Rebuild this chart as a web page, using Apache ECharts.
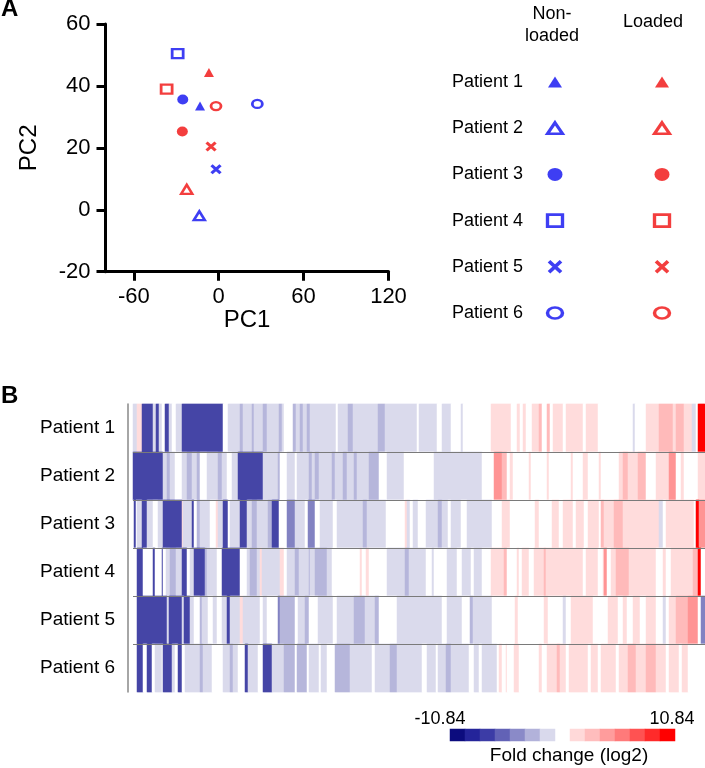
<!DOCTYPE html>
<html>
<head>
<meta charset="utf-8">
<script src="https://cdn.jsdelivr.net/npm/echarts@6/dist/echarts.min.js"></script>
<style>
html,body{margin:0;padding:0;background:#fff;}
#chart{width:705px;height:768px;}
</style>
</head>
<body>
<div id="chart"></div>
<script>
// ---------- Panel A data ----------
const patients = ['Patient 1', 'Patient 2', 'Patient 3', 'Patient 4', 'Patient 5', 'Patient 6'];
const conditions = ['Non-\nloaded', 'Loaded'];
const pc1NonLoaded = [-13.2, -13.7, -25.4, -29.0, -1.9, 27.3];
const pc2NonLoaded = [33.5, -1.9, 35.6, 50.4, 13.1, 34.2];
const pc1Loaded = [-6.9, -22.6, -25.7, -36.8, -5.4, -1.9];
const pc2Loaded = [44.3, 6.6, 25.3, 39.0, 20.4, 33.5];
const pc1Ticks = [-60, 0, 60, 120];

// ---------- Panel B data: log2 fold change per gene column, run-length [value, columns] ----------
const fcPatient1 = [[-2,4],[2,5],[-9,11],[-2,3],[-9,3],[-2,3],[0,3],[-9,4],[-2,3],[0,4],[-2,6],[-9,41],[0,5],[-2,12],[-4,3],[-2,9],[-4,2],[-2,9],[-4,4],[-2,12],[-4,3],[-2,2],[0,9],[-4,3],[-2,4],[-4,3],[-2,4],[-4,3],[-2,26],[0,2],[-2,10],[-4,5],[-2,25],[-4,7],[-2,32],[0,2],[-2,18],[0,5],[-2,9],[0,10],[-2,2],[0,28],[2,20],[0,6],[2,3],[0,3],[2,3],[0,6],[2,7],[4,3],[0,5],[4,3],[0,3],[2,10],[0,3],[2,17],[0,3],[2,12],[0,35],[-2,2],[0,11],[2,13],[4,14],[2,3],[4,8],[2,8],[-2,4],[0,2],[10,7]];
const fcPatient2 = [[-9,30],[-2,4],[-4,3],[-2,5],[0,7],[-2,5],[-4,5],[-2,5],[-4,3],[0,7],[-2,11],[-4,4],[-2,5],[0,5],[-2,6],[-9,25],[-2,15],[-4,2],[0,7],[-2,8],[0,2],[-2,12],[-4,3],[-2,3],[-4,4],[-2,13],[-4,3],[-2,8],[-4,4],[-2,7],[-4,3],[-2,12],[-4,10],[0,8],[-2,17],[0,30],[-2,48],[0,12],[6,8],[4,5],[0,3],[2,3],[0,16],[2,2],[0,16],[2,2],[0,22],[2,2],[0,10],[2,5],[0,11],[2,2],[0,18],[2,4],[4,5],[2,10],[4,8],[0,10],[2,13],[6,7],[0,5],[2,3],[0,14],[2,7]];
const fcPatient3 = [[0,1],[-9,2],[0,1],[-2,5],[-9,5],[-2,6],[0,5],[-2,5],[-9,19],[2,1],[-2,9],[-9,2],[0,3],[-4,3],[-2,10],[0,6],[2,2],[-2,5],[-9,5],[0,2],[-2,10],[-9,7],[-2,5],[-4,5],[-2,11],[-4,4],[-9,7],[0,8],[-6,8],[-2,10],[0,3],[-6,7],[0,5],[-2,13],[0,4],[-2,26],[-4,4],[-2,19],[0,19],[2,2],[-2,3],[0,3],[-2,5],[0,8],[-2,12],[-4,4],[-2,6],[0,3],[-2,10],[0,6],[-2,25],[0,10],[2,8],[0,25],[2,4],[0,13],[2,7],[0,4],[2,10],[0,3],[2,8],[0,4],[2,11],[0,2],[4,3],[2,10],[4,9],[2,36],[-2,4],[0,3],[2,28],[0,2],[10,3],[6,6]];
const fcPatient4 = [[0,4],[-9,6],[0,10],[-9,2],[0,7],[-9,1],[0,3],[-2,4],[-4,6],[-2,6],[-9,5],[0,3],[-2,4],[-9,11],[-4,2],[-2,10],[0,5],[-9,18],[0,7],[-2,3],[-4,7],[-2,3],[2,2],[-2,18],[2,4],[0,3],[-2,8],[-4,4],[-2,10],[-4,1],[-2,5],[-4,12],[-2,5],[0,28],[2,2],[0,4],[2,3],[0,18],[-2,18],[-4,4],[-2,17],[0,6],[-2,2],[0,13],[-2,10],[0,5],[-2,9],[0,3],[-2,8],[0,9],[2,13],[4,3],[0,10],[2,2],[0,3],[2,7],[0,5],[2,10],[4,2],[2,37],[0,3],[2,12],[0,5],[2,1],[6,3],[0,4],[2,5],[4,13],[2,27],[0,7],[2,3],[0,5],[2,22],[4,5],[10,3],[0,4]];
const fcPatient5 = [[0,4],[-9,30],[-2,2],[-9,13],[-2,2],[-9,6],[-2,4],[0,6],[-4,2],[-2,6],[0,5],[-2,4],[0,5],[-2,5],[-9,3],[-2,10],[2,3],[-2,17],[0,3],[-2,4],[0,11],[-6,2],[-4,15],[0,3],[-2,7],[-4,4],[0,9],[-2,15],[0,4],[-2,17],[-4,11],[-2,10],[-4,4],[0,18],[-2,45],[0,5],[-2,15],[0,8],[-4,3],[-2,19],[0,23],[2,3],[0,26],[2,4],[0,15],[-2,3],[0,5],[2,22],[0,15],[2,10],[0,5],[2,4],[0,6],[2,7],[0,6],[2,10],[0,7],[-2,3],[0,3],[2,7],[4,12],[6,10],[0,3],[-6,4]];
const fcPatient6 = [[0,4],[-9,6],[0,4],[-9,5],[0,3],[-2,7],[0,1],[-9,9],[-2,3],[0,3],[-9,4],[0,3],[-2,15],[-4,3],[-2,9],[0,11],[-2,7],[-4,3],[-2,5],[0,7],[-9,3],[-2,10],[0,5],[-9,9],[-2,12],[-4,11],[0,2],[-4,10],[0,2],[-2,10],[0,2],[-2,6],[0,8],[-4,15],[-2,22],[0,3],[-2,15],[-4,7],[-2,25],[0,5],[-2,9],[0,2],[-2,8],[-4,5],[-2,18],[0,5],[-2,5],[0,3],[-2,15],[0,2],[2,3],[0,4],[2,1],[0,7],[2,5],[0,20],[2,3],[0,5],[2,10],[4,3],[2,6],[0,3],[2,19],[0,3],[2,7],[0,3],[2,15],[0,3],[2,9],[4,8],[2,10],[4,10],[2,10],[0,3],[2,10],[0,3],[2,6],[0,17]];
const fcRows = [fcPatient1, fcPatient2, fcPatient3, fcPatient4, fcPatient5, fcPatient6];
const geneCount = 572;

// colour scale legend
const scaleLabels = ['-10.84', '10.84'];
const scaleName = 'Fold change (log2)';
const scaleLevels = [-7, -6, -5, -4, -3, -2, -1, 1, 2, 3, 4, 5, 6, 7];

// ---------- styles ----------
const FONT = 'Liberation Sans';
const BLUE = '#0e0ef0';
const RED = '#f00e0e';
const scaleColors = ['#0c0c7e', '#24249a', '#3c3ca6', '#6262b6', '#8a8ac8', '#b2b2da', '#d9d9ec',
                     '#ffd9d9', '#ffbdbd', '#ff9c9c', '#ff7a7a', '#ff5252', '#ff2a2a', '#ff0000'];
const markerShape = ['triangle', 'triangle', 'circle', 'rect', 'path://M0,0L10,10M10,0L0,10', 'circle'];
const markerOpen = [false, true, false, true, false, true];
const markerSizeA = [[10, 9], [11, 9], [11, 10], [11, 9], [9, 8], [10, 8]];
const markerSizeLegend = [[14, 11], [15, 11], [15, 13], [15, 12], [12, 11], [15, 11]];

function markerItem(value, i, color, legend) {
  const size = legend ? markerSizeLegend[i] : markerSizeA[i];
  const bw = legend ? 3 : 2.5;
  let itemStyle;
  if (markerOpen[i]) itemStyle = {color: '#ffffff', borderColor: color, borderWidth: bw};
  else if (markerShape[i].indexOf('path') === 0) itemStyle = {color: color, borderColor: color, borderWidth: bw + 0.5};
  else itemStyle = {color: color, borderWidth: 0};
  return {value: value, symbol: markerShape[i], symbolSize: size, itemStyle: itemStyle};
}

// build heatmap cells from the run-length rows
const geneCats = [];
for (let i = 0; i < geneCount; i++) geneCats.push('g' + i);
const heatData = [];
fcRows.forEach(function (runs, r) {
  let c = 0;
  runs.forEach(function (run) {
    for (let k = 0; k < run[1]; k++) { heatData.push([c, r, run[0]]); c++; }
  });
});

const scaleCats = [];
for (let i = 0; i < 15; i++) {
  const item = {value: 'c' + i};
  if (i === 0) item.textStyle = {padding: [0, 35, 0, 0]};
  if (i === 14) item.textStyle = {padding: [0, 0, 0, 9]};
  scaleCats.push(item);
}
const scaleData = scaleLevels.map(function (lv, k) {
  return {value: [k < 7 ? k : k + 1, 0, lv], itemStyle: {color: scaleColors[k]}};
});

const axisBlack = {onZero: false, lineStyle: {color: '#000', width: 3}};
const tickBlack = {length: 9, lineStyle: {color: '#000', width: 3}};
const txt = function (size) { return {fontFamily: FONT, fontSize: size, color: '#000'}; };

const chart = echarts.init(document.getElementById('chart'), null, {renderer: 'canvas'});
chart.setOption({
  animation: false,
  backgroundColor: '#ffffff',
  title: [
    {text: 'A', left: 1, top: -3, padding: 0, textStyle: {fontFamily: FONT, fontSize: 24, fontWeight: 'bold', color: '#000'}},
    {text: 'B', left: 1, top: 384, padding: 0, textStyle: {fontFamily: FONT, fontSize: 24, fontWeight: 'bold', color: '#000'}}
  ],
  grid: [
    {left: 105.5, top: 24, width: 283, height: 247.7, outerBoundsMode: 'none'},
    {left: 501.5, top: 58.9, width: 214, height: 277.2, outerBoundsMode: 'none'},
    {left: 133, top: 404, width: 572, height: 288, outerBoundsMode: 'none'},
    {left: 450, top: 729, width: 225, height: 12, outerBoundsMode: 'none'}
  ],
  visualMap: [{
    type: 'piecewise', show: false, seriesIndex: 4, dimension: 2,
    pieces: [
      {lt: -7.5, color: '#4646a6'},
      {gte: -7.5, lt: -5, color: '#8282c2'},
      {gte: -5, lt: -3, color: '#b6b6db'},
      {gte: -3, lt: -1, color: '#dadaec'},
      {gte: -1, lt: 1, color: '#ffffff'},
      {gte: 1, lt: 3, color: '#ffdcdc'},
      {gte: 3, lt: 5, color: '#ffbaba'},
      {gte: 5, lt: 8, color: '#ff9494'},
      {gte: 8, color: '#ff0000'}
    ]
  }],
  xAxis: [
    {gridIndex: 0, type: 'value', min: -80, max: 120,
     axisLine: axisBlack, axisTick: Object.assign({customValues: pc1Ticks}, tickBlack),
     axisLabel: Object.assign({customValues: pc1Ticks, margin: 14}, txt(22)),
     splitLine: {show: false},
     name: 'PC1', nameLocation: 'middle', nameGap: 33, nameTextStyle: txt(24)},
    {gridIndex: 1, type: 'category', position: 'top', data: [
        {value: conditions[0], textStyle: {padding: [0, 6, 0, 0]}},
        {value: conditions[1], textStyle: {padding: [0, 18, 14, 0]}}],
     axisLine: {show: false}, axisTick: {show: false},
     axisLabel: Object.assign({margin: 12, lineHeight: 22}, txt(18))},
    {gridIndex: 2, type: 'category', data: geneCats, show: false},
    {gridIndex: 3, type: 'category', position: 'top', data: scaleCats,
     axisLine: {show: false}, axisTick: {show: false},
     axisLabel: Object.assign({interval: 0, margin: 1,
       formatter: function (v, i) { return i === 0 ? scaleLabels[0] : (i === 14 ? scaleLabels[1] : ''); }}, txt(18))},
    {gridIndex: 3, type: 'category', position: 'bottom', data: scaleCats,
     axisLine: {show: false}, axisTick: {show: false}, axisLabel: {show: false},
     name: scaleName, nameLocation: 'middle', nameGap: 5,
     nameTextStyle: Object.assign({verticalAlign: 'top', padding: [0, 0, 0, 13]}, txt(19))}
  ],
  yAxis: [
    {gridIndex: 0, type: 'value', min: -20, max: 60, interval: 20,
     axisLine: axisBlack, axisTick: tickBlack,
     axisLabel: Object.assign({margin: 15}, txt(22)),
     splitLine: {show: false},
     name: 'PC2', nameLocation: 'middle', nameRotate: 90, nameGap: 64, nameTextStyle: txt(24)},
    {gridIndex: 1, type: 'category', inverse: true, data: patients,
     axisLine: {show: false}, axisTick: {show: false},
     axisLabel: Object.assign({margin: -21.5}, txt(18))},
    {gridIndex: 2, type: 'category', inverse: true, data: patients, offset: 5, z: 5,
     axisLine: {show: true, lineStyle: {color: '#888888', width: 1.5}},
     axisTick: {show: false},
     axisLabel: Object.assign({margin: 13}, txt(19)),
     splitLine: {show: true, showMinLine: false, showMaxLine: false, lineStyle: {color: '#7a7a7a', width: 1.2}}},
    {gridIndex: 3, type: 'category', data: ['scale'], show: false}
  ],
  series: [
    {type: 'scatter', name: 'Non-loaded', xAxisIndex: 0, yAxisIndex: 0, silent: true,
     data: pc1NonLoaded.map(function (x, i) { return markerItem([x, pc2NonLoaded[i]], i, BLUE, false); })},
    {type: 'scatter', name: 'Loaded', xAxisIndex: 0, yAxisIndex: 0, silent: true,
     data: pc1Loaded.map(function (x, i) { return markerItem([x, pc2Loaded[i]], i, RED, false); })},
    {type: 'scatter', xAxisIndex: 1, yAxisIndex: 1, silent: true,
     data: patients.map(function (p, i) { return markerItem([0, i], i, BLUE, true); })},
    {type: 'scatter', xAxisIndex: 1, yAxisIndex: 1, silent: true,
     data: patients.map(function (p, i) { return markerItem([1, i], i, RED, true); })},
    {type: 'heatmap', xAxisIndex: 2, yAxisIndex: 2, data: heatData, progressive: 0, silent: true,
     emphasis: {disabled: true}},
    {type: 'heatmap', xAxisIndex: 3, yAxisIndex: 3, data: scaleData, progressive: 0, silent: true,
     emphasis: {disabled: true}}
  ]
});
</script>
</body>
</html>
